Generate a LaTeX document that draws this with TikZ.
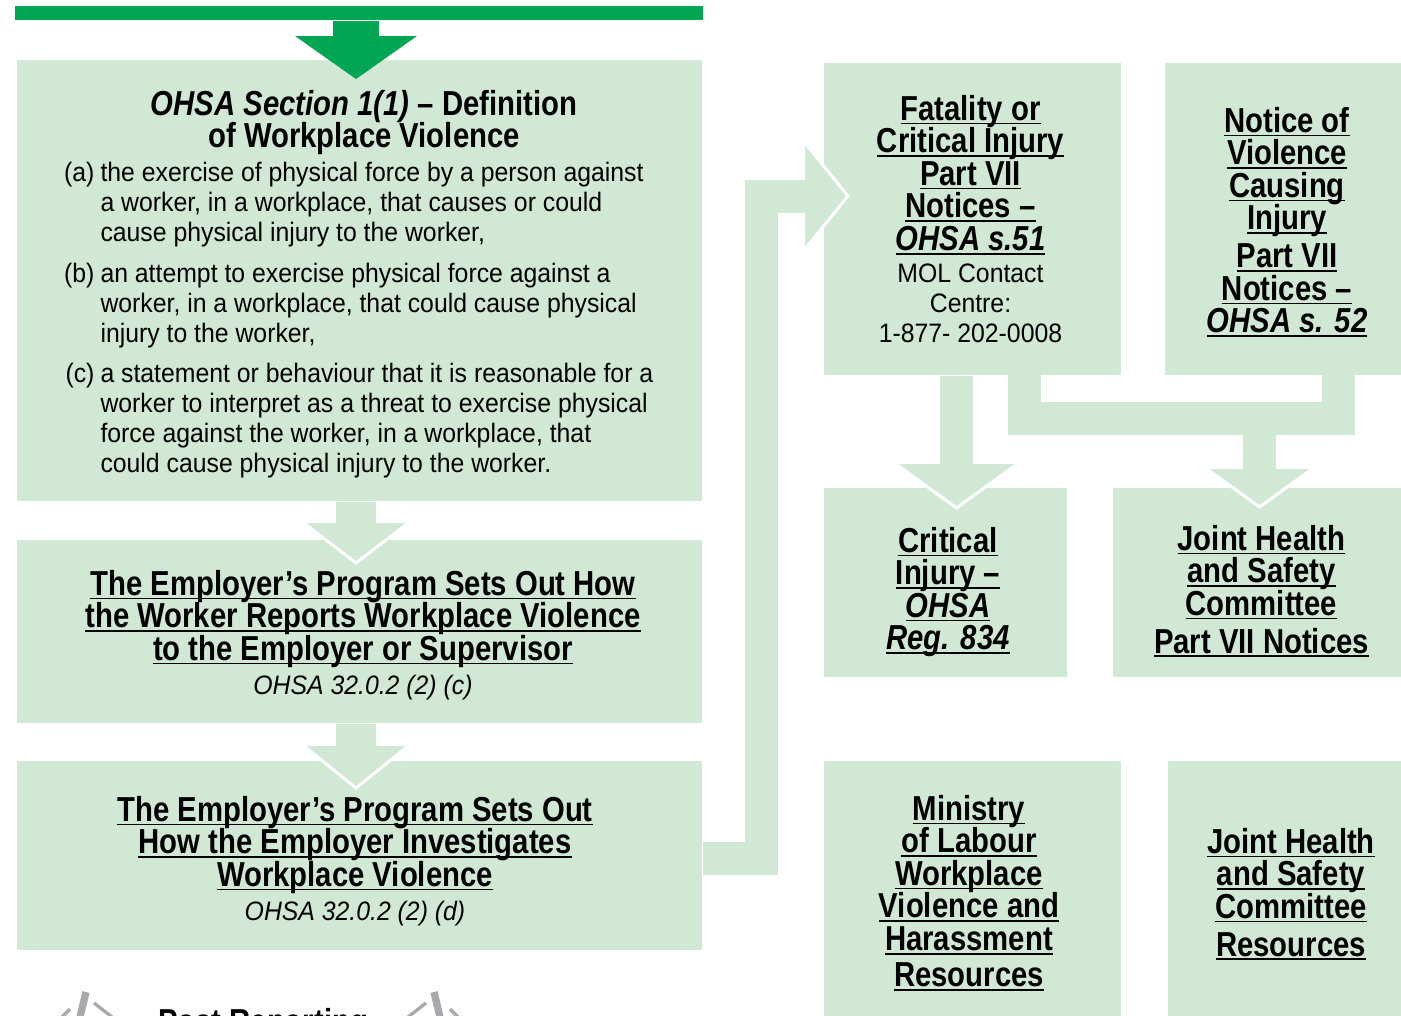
\documentclass[tikz,border=0pt]{standalone}
\usepackage{fontspec}
\setmainfont{Liberation Sans}[FakeStretch=0.93]
\newfontfamily\headfont{Liberation Sans}[FakeStretch=0.845]
\usetikzlibrary{calc,fit}

\definecolor{boxgreen}{RGB}{208,232,212}
\definecolor{bargreen}{RGB}{0,166,81}
\definecolor{icongray}{RGB}{167,169,172}

\setlength{\lineskiplimit}{-30pt}
\newcommand{\undr}[1]{\setbox0=\hbox{#1}\rlap{\rule[-3.2pt]{\wd0}{1.4pt}}\box0}

\tikzset{every picture/.style={line width=0.75pt}}
\tikzset{
	greenbox/.style={fill=boxgreen, inner sep=0pt},
	headtxt/.style={font=\headfont\fontsize{26}{24.4}\selectfont\bfseries, align=center, inner sep=0pt},
	bodytxt/.style={font=\fontsize{20}{22.5}\selectfont, align=left, inner sep=0pt},
	pipe/.style={draw=boxgreen, line width=24.75pt},
	whiteedge/.style={draw=white, line width=2.25pt},
}
\newcommand{\downhead}[3]{%
	\fill[boxgreen] ($(#1)+(-#2,-#3)$) -- (#1) -- ($(#1)+(#2,-#3)$) -- cycle;
	\draw[whiteedge] ($(#1)+(-#2,-#3)$) -- (#1) -- ($(#1)+(#2,-#3)$);}

\begin{document}
\begin{tikzpicture}[x=0.75pt,y=0.75pt,yscale=-1]
	\useasboundingbox (0,0) rectangle (1401,1015);
	\clip (0,0) rectangle (1401,1015);

	%Boxes
	\node[fill=bargreen, inner sep=0pt, fit={(15,6) (703,20)}] (bar) {};
	\node[greenbox, fit={(17,60) (702,501)}] (def) {};
	\node[greenbox, fit={(17,540) (702,723)}] (prog) {};
	\node[greenbox, fit={(17,761) (702,950)}] (invest) {};
	\node[greenbox, fit={(824,63) (1121,375)}] (fatal) {};
	\node[greenbox, fit={(1165,63) (1401,375)}] (notice) {};
	\node[greenbox, fit={(824,488) (1067,677)}] (crit) {};
	\node[greenbox, fit={(1113,488) (1401,677)}] (jhsc) {};
	\node[greenbox, fit={(824,761) (1121,1030)}] (mol) {};
	\node[greenbox, fit={(1168,761) (1401,1030)}] (jres) {};

	%Top arrow
	\coordinate (toptip) at (356,79);
	\draw[bargreen, line width=34.5pt] (bar.south -| toptip) -- ($(toptip)+(0,-43)$);
	\fill[bargreen] ($(toptip)+(-61,-43)$) -- (toptip) -- ($(toptip)+(61,-43)$) -- cycle;

	%Left column arrows
	\coordinate (tipa) at (356,563);
	\draw[pipe, line width=30pt] (def.south -| tipa) -- ($(tipa)+(0,-40)$);
	\downhead{tipa}{52}{40}
	\coordinate (tipb) at (356,788);
	\draw[pipe, line width=30pt] (prog.south -| tipb) -- ($(tipb)+(0,-42)$);
	\downhead{tipb}{52}{42}

	%Investigation to fatality
	\coordinate (tipf) at (848,196);
	\draw[pipe] ($(invest.east)+(0,3)$) -| (761.5,196) -- ($(tipf)+(-43,0)$);
	\fill[boxgreen] ($(tipf)+(-43,-53)$) -- (tipf) -- ($(tipf)+(-43,53)$) -- cycle;
	\draw[whiteedge] ($(tipf)+(-43,-53)$) -- (tipf) -- ($(tipf)+(-43,53)$);

	%Fatality to critical injury
	\coordinate (tipc) at (956.5,508);
	\draw[pipe] (fatal.south -| tipc) -- ($(tipc)+(0,-44)$);
	\downhead{tipc}{60.5}{44}

	%Fatality and notice to committee
	\coordinate (fatout) at (1024,375);
	\coordinate (notout) at (1338,375);
	\coordinate (tipj) at (1259.5,507);
	\draw[pipe] (fatout) |- (1338,418) -- (notout);
	\draw[pipe] (tipj |- 0,418) -- ($(tipj)+(0,-38)$);
	\downhead{tipj}{52.5}{38}

	% Text Node
	\node[headtxt, anchor=north] (deftitle) at (364,89.5) {{\itshape OHSA Section 1(1)} – Definition\\ of Workplace Violence};
	% Text Node
	\node[bodytxt, anchor=north west] (ta) at (100,161.5) {the exercise of physical force by a person against\\ a worker, in a workplace, that causes or could\\ cause physical injury to the worker,};
	\node[bodytxt, anchor=north east] (la) at ($(ta.north west)+(-5,0)$) {(a)};
	% Text Node
	\node[bodytxt, anchor=north west] (tb) at (100,262.5) {an attempt to exercise physical force against a\\ worker, in a workplace, that could cause physical\\ injury to the worker,};
	\node[bodytxt, anchor=north east] (lb) at ($(tb.north west)+(-5,0)$) {(b)};
	% Text Node
	\node[bodytxt, anchor=north west] (tc) at (100,362.5) {a statement or behaviour that it is reasonable for a\\ worker to interpret as a threat to exercise physical\\ force against the worker, in a workplace, that\\ could cause physical injury to the worker.};
	\node[bodytxt, anchor=north east] (lc) at ($(tc.north west)+(-5,0)$) {(c)};

	% Text Node
	\node[headtxt, anchor=north] (progtxt) at (363,569.5) {\undr{The Employer’s Program Sets Out How}\\ \undr{the Worker Reports Workplace Violence}\\ \undr{to the Employer or Supervisor}\\[1pt] {\normalfont\fontsize{20}{22.5}\selectfont\itshape OHSA 32.0.2 (2) (c)}};
	% Text Node
	\node[headtxt, anchor=north] (investtxt) at (355,795.5) {\undr{The Employer’s Program Sets Out}\\ \undr{How the Employer Investigates}\\ \undr{Workplace Violence}\\[1pt] {\normalfont\fontsize{20}{22.5}\selectfont\itshape OHSA 32.0.2 (2) (d)}};

	% Text Node
	\node[headtxt, anchor=north] (fataltxt) at (970.5,94.5) {\undr{Fatality or}\\ \undr{Critical Injury}\\ \undr{Part VII}\\ \undr{Notices –}\\ \undr{\itshape OHSA s.51}};
	\node[bodytxt, align=center, anchor=north] (moltel) at (970.5,263.5) {MOL Contact\\ Centre:\\ 1-877- 202-0008};
	% Text Node
	\node[headtxt, anchor=north] (noticetxt) at (1287,106.5) {\undr{Notice of}\\ \undr{Violence}\\ \undr{Causing}\\ \undr{Injury}\\[4pt] \undr{Part VII}\\ \undr{Notices –}\\ \undr{\itshape OHSA s. 52}};
	% Text Node
	\node[headtxt, anchor=north] (crittxt) at (948,526.5) {\undr{Critical}\\ \undr{Injury –}\\ \undr{\itshape OHSA}\\ \undr{\itshape Reg. 834}};
	% Text Node
	\node[headtxt, anchor=north] (jhsctxt) at (1261.5,524.5) {\undr{Joint Health}\\ \undr{and Safety}\\ \undr{Committee}\\[4pt] \undr{Part VII Notices}};
	% Text Node
	\node[headtxt, anchor=north] (moltxt) at (969,794.5) {\undr{Ministry}\\ \undr{of Labour}\\ \undr{Workplace}\\ \undr{Violence and}\\ \undr{Harassment}\\[3pt] \undr{Resources}};
	% Text Node
	\node[headtxt, anchor=north] (jrestxt) at (1291,827.5) {\undr{Joint Health}\\ \undr{and Safety}\\ \undr{Committee}\\[4pt] \undr{Resources}};

	%Post reporting
	\node[headtxt, anchor=base] (post) at (263,1033) {Post Reporting};
	\foreach \mir in {1,-1}{
		\begin{scope}[shift={(260,0)}, xscale=\mir]
			\draw[icongray, line width=5.5pt] (-174,992) -- (-180,1017);
			\draw[icongray, line width=2.5pt] (-166,1003) -- (-148,1017);
			\draw[icongray, line width=2.5pt] (-190,1009) -- (-198,1017);
		\end{scope}
	}
\end{tikzpicture}
\end{document}
